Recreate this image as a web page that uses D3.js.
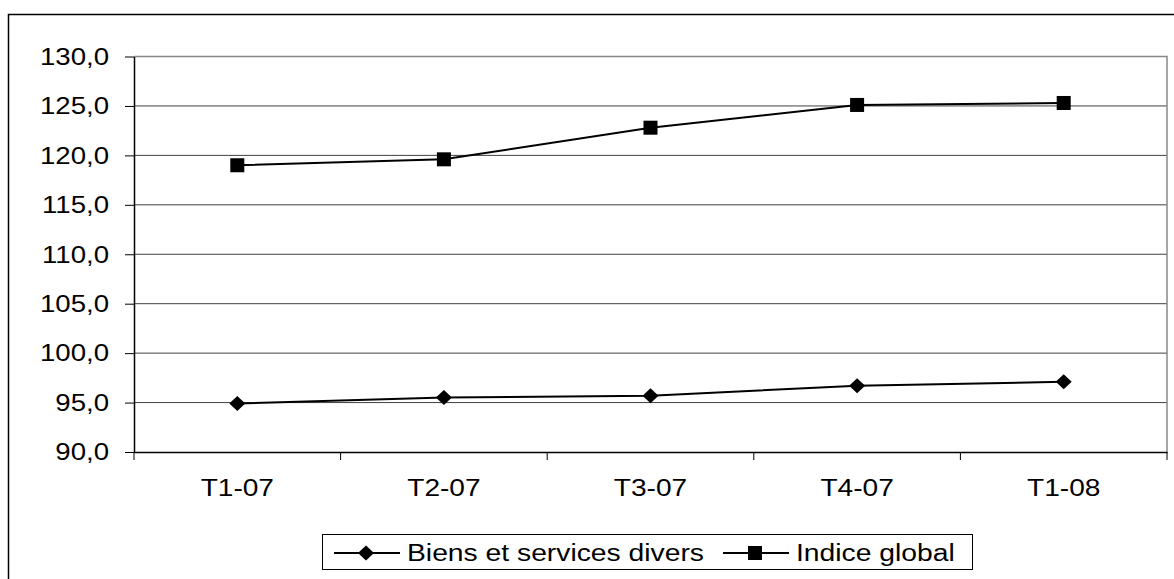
<!DOCTYPE html>
<html><head><meta charset="utf-8">
<script src="https://cdn.jsdelivr.net/npm/d3@7"></script>
<style>body{margin:0;background:#fff}svg{display:block}text{font-family:"Liberation Sans",Arial,sans-serif;fill:#000}</style>
</head><body>
<svg id="c" width="1174" height="579"></svg>
<script>
const categories = ["T1-07","T2-07","T3-07","T4-07","T1-08"];
const biens = [94.9, 95.5, 95.7, 96.7, 97.1];
const indice = [119.0, 119.6, 122.8, 125.1, 125.3];
const yTicks = [90,95,100,105,110,115,120,125,130];
const seriesNames = ["Biens et services divers","Indice global"];

const svg = d3.select("#c");
const L = 134, R = 1167, T = 56.5, B = 452;
svg.append("rect").attr("x",8.5).attr("y",14.5).attr("width",1190).attr("height",600)
  .attr("fill","#fff").attr("stroke","#000").attr("stroke-width",1.5);

const x = d3.scaleBand().domain(categories).range([L,R]);
const y = d3.scaleLinear().domain([90,130]).range([B,T]);
const fmt = v => d3.format(".1f")(v).replace(".",",");

// gridlines
svg.append("g").selectAll("line").data(yTicks.filter(t=>t>90&&t<130)).join("line")
  .attr("x1",L).attr("x2",R).attr("y1",d=>y(d)).attr("y2",d=>y(d))
  .attr("stroke","#404040").attr("stroke-width",1);
// plot border top/right
svg.append("path").attr("d",`M${L},${T}H${R}V${B}`).attr("fill","none").attr("stroke","#888").attr("stroke-width",1.5);

// y axis
const ya = svg.append("g").attr("transform",`translate(${L},0)`)
  .call(d3.axisLeft(y).tickValues(yTicks).tickFormat(()=>"").tickSize(9).tickSizeOuter(0));
ya.selectAll("line").attr("stroke","#000");
ya.select(".domain").attr("stroke","#000").attr("stroke-width",1.5);
svg.append("g").selectAll("text").data(yTicks).join("text")
  .attr("transform",d=>`translate(109,${y(d)+8.3}) scale(1.2,1)`)
  .attr("text-anchor","end").attr("font-size",23).text(fmt);

// x axis
const xa = svg.append("g").attr("transform",`translate(0,${B})`)
  .call(d3.axisBottom(x).tickFormat(()=>"").tickSize(0).tickSizeOuter(0));
xa.select(".domain").attr("stroke","#000").attr("stroke-width",1.5);
const bounds = categories.map(c=>x(c)).concat([R]);
svg.append("g").selectAll("line").data(bounds).join("line")
  .attr("x1",d=>d).attr("x2",d=>d).attr("y1",B).attr("y2",B+8).attr("stroke","#000");
svg.append("g").selectAll("text").data(categories).join("text")
  .attr("transform",d=>`translate(${x(d)+x.bandwidth()/2},${495.5}) scale(1.17,1)`)
  .attr("text-anchor","middle").attr("font-size",24).text(d=>d);

const cx = d => x(d)+x.bandwidth()/2;
const line = d3.line().x((d,i)=>cx(categories[i])).y(d=>y(d));
const diamond = (g,px,py)=>g.append("path").attr("d",`M${px},${py-7.5}L${px+8},${py}L${px},${py+7.5}L${px-8},${py}Z`).attr("fill","#000");
const square = (g,px,py)=>g.append("rect").attr("x",px-7).attr("y",py-7).attr("width",14).attr("height",14).attr("fill","#000");

[[biens,diamond],[indice,square]].forEach(([vals,mk])=>{
  const g = svg.append("g");
  g.append("path").datum(vals).attr("d",line).attr("fill","none").attr("stroke","#000").attr("stroke-width",2);
  vals.forEach((v,i)=>mk(g,cx(categories[i]),y(v)));
});

// legend
const lg = svg.append("g");
lg.append("rect").attr("x",322.5).attr("y",534.5).attr("width",650).attr("height",35).attr("fill","#fff").attr("stroke","#000");
const items = [[334,diamond,407],[723,square,796]];
items.forEach(([lx,mk,tx],i)=>{
  lg.append("line").attr("x1",lx).attr("x2",lx+66).attr("y1",553).attr("y2",553).attr("stroke","#000").attr("stroke-width",2);
  mk(lg,lx+32,553);
  lg.append("text").attr("transform",`translate(${tx},561) scale(1.23,1)`).attr("font-size",23).text(seriesNames[i]);
});
</script>
</body></html>
